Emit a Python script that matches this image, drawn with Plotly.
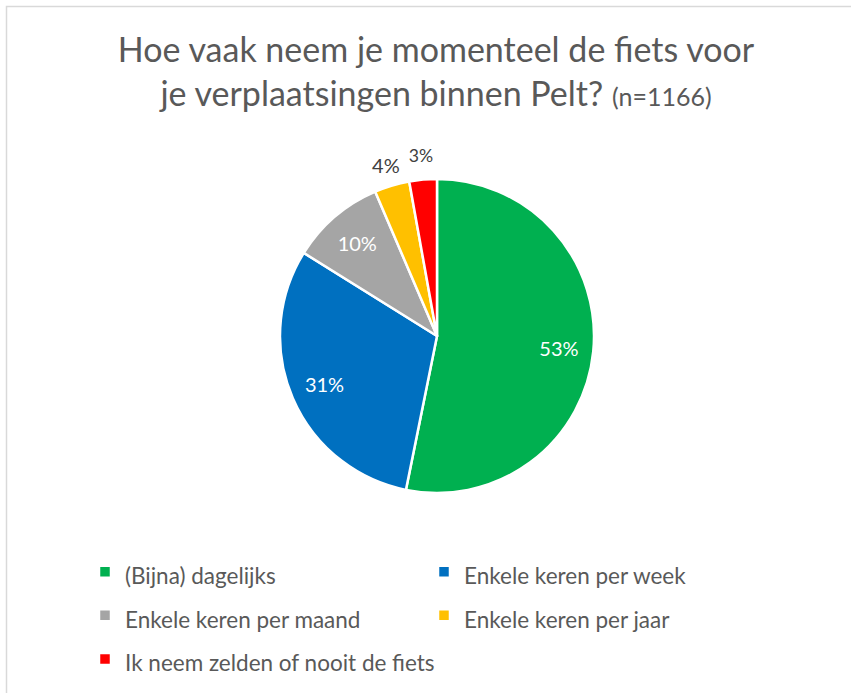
import plotly.graph_objects as go

categories = ["(Bijna) dagelijks", "Enkele keren per week", "Enkele keren per maand",
              "Enkele keren per jaar", "Ik neem zelden of nooit de fiets"]
counts = [620, 358, 113, 42, 33]
colors = ["#00B050", "#0070C0", "#A5A5A5", "#FFC000", "#FF0000"]
label_outside = [False, False, False, True, True]

W, H = 851, 693
FONT = "Lato, 'Open Sans', sans-serif"
CX, CY, R = 437, 336, 157          # pie centre / radius in pixels

legend_names = [f"<span style='font-size:22.5px'>{c}</span>" for c in categories]
pct = "%{percent:.0%}"

def dom(r):
    return dict(x=[(CX - r) / W, (CX + r) / W], y=[1 - (CY + r) / H, 1 - (CY - r) / H])

common = dict(labels=legend_names, values=counts, sort=False,
              direction="clockwise", rotation=0)

main = go.Pie(
    **common,
    marker=dict(colors=colors, line=dict(color="white", width=2.5)),
    textinfo="none",
    hoverinfo="label+percent",
    domain=dom(R),
)

def label_ring(r_in, r_out, show, color):
    # transparent ring whose only role is to carry the data labels at a given radius
    return go.Pie(
        **common,
        hole=r_in / r_out,
        marker=dict(colors=["rgba(0,0,0,0)"] * len(counts), line=dict(width=0)),
        texttemplate=[pct if s else "" for s in show],
        textposition="inside",
        insidetextorientation="horizontal",
        insidetextfont=dict(color=color, size=20, family=FONT),
        hoverinfo="skip",
        showlegend=False,
        domain=dom(r_out),
    )

inner = label_ring(95, 150, [not o for o in label_outside], "white")
outer = label_ring(158, 198, label_outside, "#404040")

fig = go.Figure([main, inner, outer])

fig.update_layout(
    width=W, height=H,
    margin=dict(l=0, r=0, t=0, b=0),
    paper_bgcolor="white",
    font=dict(family=FONT, color="#595959"),
    title=dict(
        text="Hoe vaak neem je momenteel de fiets voor<br>je verplaatsingen binnen Pelt? "
             "<span style='font-size:25px'>(n=1166)</span>",
        x=436 / W, xanchor="center", xref="paper",
        y=1 - 62 / H, yanchor="top", yref="container",
        font=dict(size=34, color="#595959", family=FONT),
    ),
    legend=dict(
        orientation="h",
        x=85 / W, xanchor="left",
        y=1 - 545 / H, yanchor="top",
        entrywidth=294, entrywidthmode="pixels",
        font=dict(size=31.2, color="#595959", family=FONT),
        traceorder="normal",
    ),
    shapes=[dict(type="rect", xref="paper", yref="paper",
                 x0=6.5 / W, x1=1.2, y0=-0.2, y1=1 - 6.5 / H,
                 line=dict(color="#D9D9D9", width=1.5), fillcolor="rgba(0,0,0,0)",
                 layer="below")],
)

fig.write_html("out.html", config={"displayModeBar": False},
               post_script="document.body.style.margin='0';")
